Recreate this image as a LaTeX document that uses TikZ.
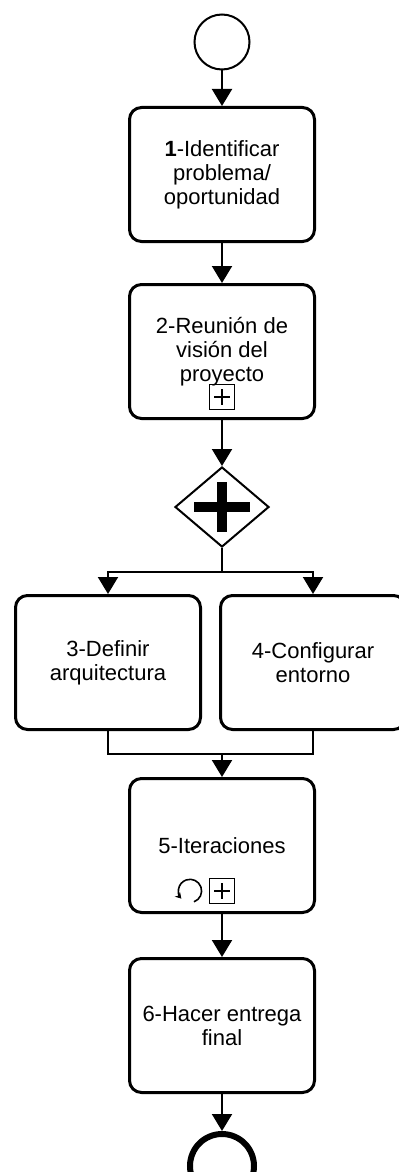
\documentclass[tikz,border=0pt]{standalone}
\usepackage{fontspec}
\setmainfont{Liberation Sans}
\usetikzlibrary{positioning,shapes.geometric,arrows.meta}

\begin{document}
\begin{tikzpicture}[
  task/.style={draw, line width=1.5pt, rounded corners=6pt, fill=white,
              minimum width=92.5pt, minimum height=67pt,
              align=center, font=\fontsize{11}{12}\selectfont},
  ev/.style={draw, circle, line width=1pt, minimum size=27.5pt, inner sep=0pt},
  endev/.style={ev, line width=3pt, minimum size=32pt},
  gw/.style={draw, diamond, line width=1pt, minimum width=47pt,
             minimum height=40pt, inner sep=0pt},
  mk/.style={draw, line width=0.6pt, minimum size=12.5pt, inner sep=0pt},
  ln/.style={line width=1pt},
  arr/.style={ln, -{Triangle[width=10pt,length=8.5pt]}}
]
\useasboundingbox (0,0) rectangle (199.5pt,-586pt);
\node[ev] (st) at (111pt,-21pt) {};
\node[task,below=17.75pt of st] (t1) {\textbf{1}-Identificar\\problema/\\oportunidad};
\node[task,below=20pt of t1] (t2) {2-Reunión de\\visión del\\proyecto};
\node[mk,above=5pt of t2.south] (m2) {};
\node[gw,below=23pt of t2] (gw) {};
\coordinate[below=12pt of gw] (sp);
\node[task,below=23pt of gw,xshift=-57pt] (t3) {3-Definir\\arquitectura};
\node[task,right=8.5pt of t3] (t4) {4-Configurar\\entorno};
\coordinate[below=11.5pt of t3] (j3);
\coordinate[below=11.5pt of t4] (j4);
\coordinate (jn) at (gw |- j3);
\node[task,below=11.5pt of jn] (t5) {5-Iteraciones};
\node[mk,above=5pt of t5.south] (m5) {};
\coordinate[left=16pt of m5.center] (lp);
\node[task,below=21.5pt of t5] (t6) {6-Hacer entrega\\final};
\node[endev,below=18.5pt of t6] (en) {};
\draw[line width=5pt] ([xshift=-14pt]gw.center)--([xshift=14pt]gw.center)
  ([yshift=-12.5pt]gw.center)--([yshift=12.5pt]gw.center);
\foreach \m in {m2,m5}
  \draw[line width=1pt] ([xshift=-4pt]\m.center)--([xshift=4pt]\m.center)
    ([yshift=-4pt]\m.center)--([yshift=4pt]\m.center);
\draw[line width=0.8pt,-{Stealth[length=3pt,width=3.5pt]}] (lp) ++(-70:5.8pt)
  arc[start angle=-70,end angle=222,radius=5.8pt];
\draw[arr](st)--(t1);\draw[arr](t1)--(t2);\draw[arr](t2)--(gw);
\draw[ln](gw)--(sp);\draw[arr](sp)-|(t3);\draw[arr](sp)-|(t4);
\draw[ln](t3)--(j3)--(j4)--(t4);\draw[arr](jn)--(t5);
\draw[arr](t5)--(t6);\draw[arr](t6)--(en);
\end{tikzpicture}
\end{document}
